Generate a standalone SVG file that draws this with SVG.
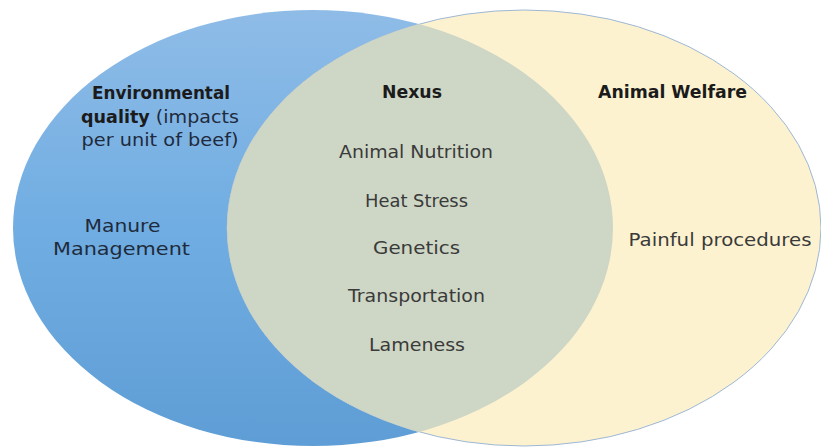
<svg xmlns="http://www.w3.org/2000/svg" width="821" height="447" viewBox="0 0 821 447">
  <defs>
    <linearGradient id="blueGrad" x1="0" y1="0" x2="0" y2="1">
      <stop offset="0" stop-color="#8FBCE7"/>
      <stop offset="0.5" stop-color="#70ADE2"/>
      <stop offset="1" stop-color="#5E9DD5"/>
    </linearGradient>
    <clipPath id="blueClip">
      <ellipse cx="313" cy="228" rx="300" ry="218"/>
    </clipPath>
    <style>
      text { font-family: "DejaVu Sans", "Liberation Sans", sans-serif; text-anchor: middle; }
      .b { font-weight: bold; font-size: 17px; fill: #1b1b1b; }
      .r { font-size: 18.5px; fill: #3a3a3a; }
      .rb { font-size: 18.5px; fill: #1f2b3c; }
    </style>
  </defs>
  <rect width="821" height="447" fill="#ffffff"/>

  <g id="env-quality">
    <ellipse cx="313" cy="228" rx="300" ry="218" fill="url(#blueGrad)"/>
  </g>
  <g id="animal-welfare">
    <ellipse cx="524" cy="228" rx="297" ry="218" fill="#FDF2D0" stroke="#9DB8D6" stroke-width="1"/>
  </g>
  <g id="nexus">
    <ellipse cx="524" cy="228" rx="297" ry="218" fill="#CED6C5" clip-path="url(#blueClip)"/>
  </g>

  <g id="labels-env">
    <text class="b" x="161" y="99" textLength="138" lengthAdjust="spacingAndGlyphs">Environmental</text>
    <text class="r" x="160" y="123" textLength="158" lengthAdjust="spacingAndGlyphs" style="fill:#1f2b3c"><tspan font-weight="bold" font-size="17" fill="#1b1b1b">quality</tspan> (impacts</text>
    <text class="rb" x="160" y="146" textLength="157" lengthAdjust="spacingAndGlyphs">per unit of beef)</text>
    <text class="rb" x="122.5" y="232" textLength="76" lengthAdjust="spacingAndGlyphs">Manure</text>
    <text class="rb" x="121.5" y="255" textLength="137" lengthAdjust="spacingAndGlyphs">Management</text>
  </g>

  <g id="labels-nexus">
    <text class="b" x="412" y="98" textLength="60" lengthAdjust="spacingAndGlyphs">Nexus</text>
    <text class="r" x="416" y="158" textLength="154" lengthAdjust="spacingAndGlyphs">Animal Nutrition</text>
    <text class="r" x="416.5" y="207" textLength="103" lengthAdjust="spacingAndGlyphs">Heat Stress</text>
    <text class="r" x="416.5" y="254" textLength="87" lengthAdjust="spacingAndGlyphs">Genetics</text>
    <text class="r" x="416.5" y="302" textLength="137" lengthAdjust="spacingAndGlyphs">Transportation</text>
    <text class="r" x="417" y="351" textLength="96" lengthAdjust="spacingAndGlyphs">Lameness</text>
  </g>

  <g id="labels-welfare">
    <text class="b" x="672.5" y="98" textLength="149" lengthAdjust="spacingAndGlyphs">Animal Welfare</text>
    <text class="r" x="720" y="246" textLength="183" lengthAdjust="spacingAndGlyphs">Painful procedures</text>
  </g>

  <g id="connectors"/>
</svg>
